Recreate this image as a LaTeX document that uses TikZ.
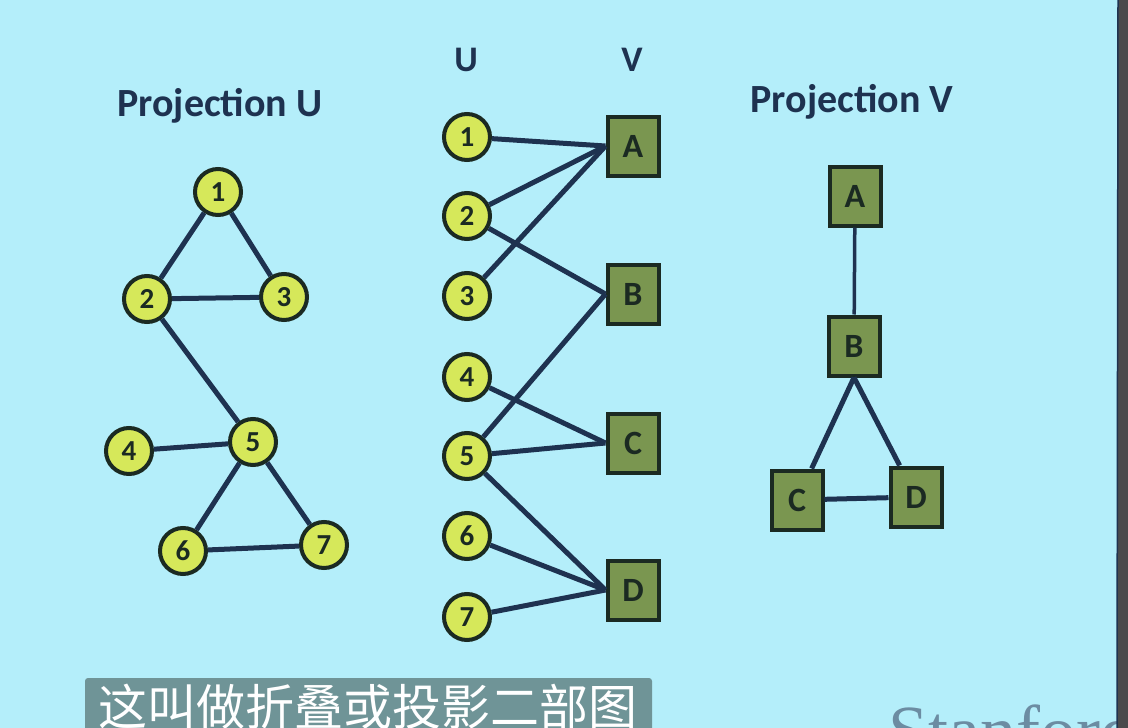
\documentclass[tikz,border=0pt]{standalone}
\usepackage{fontspec}
\setmainfont{Carlito}
\newfontfamily\cjk{Noto Sans CJK SC}
\newfontfamily\serifstan{Liberation Serif}
\definecolor{bgc}{HTML}{B4EEFA}
\definecolor{navy}{HTML}{1E3250}
\definecolor{yel}{HTML}{D6E85A}
\definecolor{olive}{HTML}{7A9650}
\definecolor{edgec}{HTML}{1B2A22}
\definecolor{subbox}{HTML}{6F9497}
\definecolor{stan}{HTML}{6C8CA2}
\definecolor{band}{HTML}{4A4A4C}
\tikzset{
  unode/.style={circle, draw=edgec, line width=4pt, fill=yel, minimum size=46pt, inner sep=0pt, font=\fontsize{29}{29}\selectfont\bfseries, text=edgec},
  vnode/.style={rectangle, draw=edgec, line width=4pt, fill=olive, minimum width=51pt, minimum height=59pt, inner sep=0pt, font=\fontsize{34}{34}\selectfont\bfseries, text=edgec},
  link/.style={draw=navy, line width=5pt},
  title/.style={font=\fontsize{40}{40}\selectfont\bfseries, text=navy},
}
\begin{document}
\begin{tikzpicture}[x=1pt,y=-1pt]
\useasboundingbox (0,0) rectangle (1128,728);
\begin{scope}
\clip (0,0) rectangle (1128,728);
\fill[bgc] (0,0) rectangle (1128,728);

% titles
\node[title] (tU) at (220,106) {Projection U};
\node[title] (tV) at (852,102) {Projection V};
\node[title, font=\fontsize{36}{36}\selectfont\bfseries] (hU) at (466,60) {U};
\node[title, font=\fontsize{36}{36}\selectfont\bfseries] (hV) at (632,60) {V};

% left projection U
\node[unode] (p1) at (218,192) {1};
\node[unode] (p2) at (147,299) {2};
\node[unode] (p3) at (284,297) {3};
\node[unode] (p4) at (129,451) {4};
\node[unode] (p5) at (253,442) {5};
\node[unode] (p6) at (183,551) {6};
\node[unode] (p7) at (324,545) {7};
\draw[link] (p1) -- (p2);
\draw[link] (p1) -- (p3);
\draw[link] (p2) -- (p3);
\draw[link] (p2) -- (p5);
\draw[link] (p4) -- (p5);
\draw[link] (p5) -- (p6);
\draw[link] (p5) -- (p7);
\draw[link] (p6) -- (p7);

% middle bipartite
\node[unode] (u1) at (467,137) {1};
\node[unode] (u2) at (467,216) {2};
\node[unode] (u3) at (467,296) {3};
\node[unode] (u4) at (467,377) {4};
\node[unode] (u5) at (467,456) {5};
\node[unode] (u6) at (467,536) {6};
\node[unode] (u7) at (467,617) {7};
\node[vnode] (vA) at (633,146) {A};
\node[vnode] (vB) at (633,294) {B};
\node[vnode] (vC) at (633,443) {C};
\node[vnode] (vD) at (633,590) {D};
\draw[link] (u1) -- (vA.west);
\draw[link] (u2) -- (vA.west);
\draw[link] (u3) -- (vA.west);
\draw[link] (u2) -- (vB.west);
\draw[link] (u5) -- (vB.west);
\draw[link] (u4) -- (vC.west);
\draw[link] (u5) -- (vC.west);
\draw[link] (u5) -- (vD.west);
\draw[link] (u6) -- (vD.west);
\draw[link] (u7) -- (vD.west);

% right projection V
\node[vnode] (qA) at (855,196) {A};
\node[vnode] (qB) at (854,346) {B};
\node[vnode] (qC) at (797,500) {C};
\node[vnode] (qD) at (916,497) {D};
\draw[link, line width=3.5pt] (qA) -- (qB);
\draw[link] (qB.south) -- (qC);
\draw[link] (qB.south) -- (qD);
\draw[link] (qC) -- (qD);

% subtitle overlay and logo
\fill[subbox, rounded corners=3pt] (85,678) rectangle (652,740);
\node[anchor=north west, inner sep=0pt, text=white, font=\cjk\fontsize{49}{49}\selectfont] (sub) at (98,684) {这叫做折叠或投影二部图};
\node[anchor=base west, inner sep=0pt, text=stan, font=\serifstan\fontsize{72}{72}\selectfont] (stf) at (888,755) {Stanford};

% right dark band
\fill[band] (1118,0) rectangle (1128,728);
\draw[navy, line width=1.5pt] (1118,0) -- (1117,728);
\end{scope}
\end{tikzpicture}
\end{document}
